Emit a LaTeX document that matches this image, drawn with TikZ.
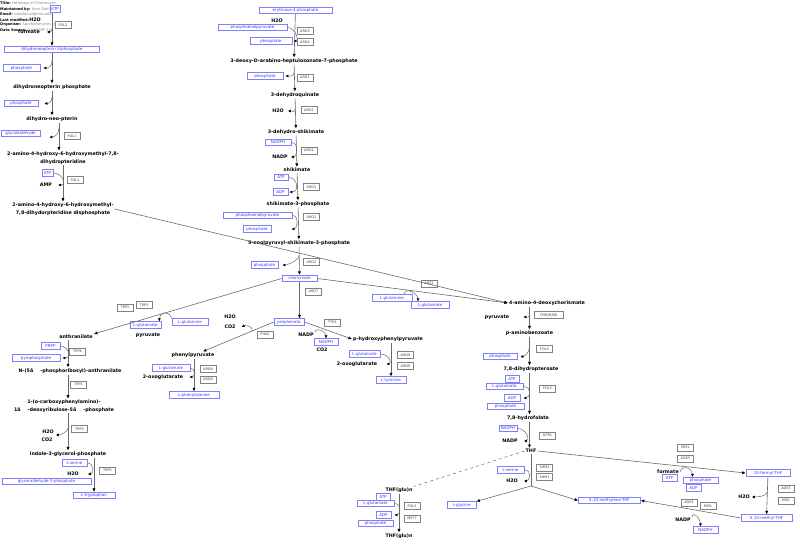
\documentclass[tikz,border=0pt]{standalone}
\usepackage{fontspec}
\setmainfont{DejaVu Sans}
\usetikzlibrary{arrows.meta,calc}
\definecolor{metblue}{RGB}{128,128,255}
\definecolor{mettext}{RGB}{60,60,230}
\definecolor{genegray}{RGB}{130,130,130}
\definecolor{linegray}{RGB}{105,105,105}

\begin{document}
\begin{tikzpicture}[x=1pt, y=-1pt]
  \tikzstyle{met} = [draw=metblue, fill=white, text=mettext, line width=0.7pt, font=\fontsize{4}{4.5}\selectfont, minimum height=6.5pt, inner sep=0.4pt]
  \tikzstyle{cpd} = [font=\fontsize{4.8}{7.5}\selectfont\bfseries, inner sep=1pt, align=center]
  \tikzstyle{gene} = [draw=genegray, fill=white, text=darkgray, line width=0.5pt, font=\fontsize{3.4}{4}\selectfont, minimum width=16pt, minimum height=7pt, inner sep=0.4pt]
  \tikzstyle{hdr} = [anchor=west, inner sep=0pt, text=gray, font=\fontsize{3.6}{4}\selectfont]
  \tikzstyle{rxn} = [draw=linegray, line width=0.6pt, -{Latex[length=3.5pt,width=3.2pt,color=black]}]
  \tikzstyle{side} = [draw=linegray, line width=0.5pt, -{Latex[length=3pt,width=3pt,color=black]}]

  \useasboundingbox (0,0) rectangle (800,545);

  % header
  \node[hdr] (hTitle) at (0,4) {{\color{black}\bfseries Title:} Pathways of Chorismate};
  \node[hdr] (hMaint) at (0,10) {{\color{black}\bfseries Maintained by:} Kam Dahlquist};
  \node[hdr] (hMail) at (0,15) {{\color{black}\bfseries Email:} kdahlquist@lmu.edu};
  \node[hdr] (hMod) at (0,20) {{\color{black}\bfseries Last modified:}};
  \node[hdr] (hOrg) at (0,25) {{\color{black}\bfseries Organism:} Saccharomyces cerevisiae};
  \node[hdr] (hSrc) at (0,30) {{\color{black}\bfseries Data Source:} GenMAPP 2.0};

  % folate branch (left)
  \node[met, minimum width=10pt] (gtp) at (55,9) {GTP};
  \node[cpd] (h2oA) at (35,20) {H2O};
  \node[cpd] (formate) at (29,32) {formate};
  \node[gene] (fol2) at (63,25) {FOL2};
  \node[met, minimum width=95pt] (dntp) at (52,49.5) {dihydroneopterin triphosphate};
  \node[met, minimum width=37pt] (phA) at (21.5,68) {phosphate};
  \node[cpd] (dnp) at (52,87) {dihydroneopterin phosphate};
  \node[met, minimum width=34pt] (phB) at (21,103.5) {phosphate};
  \node[cpd] (dhnp) at (52,119) {dihydro-neo-pterin};
  \node[met, minimum width=39pt] (glyald) at (20.5,133.5) {glycolaldehyde};
  \node[gene] (fol1a) at (72,136) {FOL1};
  \node[cpd] (ahmd) at (63,158) {2-amino-4-hydroxy-6-hydroxymethyl-7,8-\\dihydropteridine};
  \node[met, minimum width=11pt] (atpA) at (47.5,173) {ATP};
  \node[gene] (fol1b) at (75,180) {FOL1};
  \node[cpd] (amp) at (46,185) {AMP};
  \node[cpd] (ahmdp) at (63,209) {2-amino-4-hydroxy-6-hydroxymethyl-\\7,8-dihydorpteridine disphosphate};

  % shikimate pathway
  \node[met, minimum width=73pt] (e4p) at (295.5,10.5) {erythrose-4-phosphate};
  \node[cpd] (h2oB) at (277,21) {H2O};
  \node[met, minimum width=69pt] (pepA) at (252.5,27.5) {phosphoenolpyruvate};
  \node[gene] (aro3) at (305,31) {ARO3};
  \node[met, minimum width=42pt] (phC) at (271,41) {phosphate};
  \node[gene] (aro4) at (305,42) {ARO4};
  \node[cpd] (dahp) at (294,61) {3-deoxy-D-arabino-heptulosonate-7-phosphate};
  \node[met, minimum width=36pt] (phD) at (265,76) {phosphate};
  \node[gene] (aro1a) at (305,77.5) {ARO1};
  \node[cpd] (dhq) at (295,95) {3-dehydroquinate};
  \node[cpd] (h2oC) at (278,111) {H2O};
  \node[gene] (aro1b) at (309,110) {ARO1};
  \node[cpd] (dhs) at (296,132) {3-dehydro-shikimate};
  \node[met, minimum width=26pt] (nadphA) at (278,142.5) {NADPH};
  \node[gene] (aro1c) at (309,150.5) {ARO1};
  \node[cpd] (nadpA) at (280,157) {NADP};
  \node[cpd] (shik) at (297,170) {shikimate};
  \node[met, minimum width=14pt] (atpB) at (281,177.5) {ATP};
  \node[gene] (aro1d) at (311.5,187) {ARO1};
  \node[met, minimum width=15pt] (adpA) at (280.5,192) {ADP};
  \node[cpd] (s3p) at (298,204) {shikimate-3-phosphate};
  \node[met, minimum width=69pt] (pepB) at (257.5,215.5) {phosphoenolpyruvate};
  \node[gene] (aro1e) at (311.5,217) {ARO1};
  \node[met, minimum width=28pt] (phE) at (257,229) {phosphate};
  \node[cpd] (eps) at (299,243) {5-enolpyruvyl-shikimate-3-phosphate};
  \node[met, minimum width=27pt] (phF) at (264.5,265) {phosphate};
  \node[gene] (aro2) at (311.5,262) {ARO2};
  \node[met, minimum width=35pt] (chor) at (299.5,278.5) {chorismate};
  \node[gene] (aro7) at (313.5,291.5) {ARO7};

  % phenylalanine and tyrosine
  \node[met, minimum width=30pt] (prep) at (289,322) {prephenate};
  \node[cpd] (h2oD) at (230,317) {H2O};
  \node[cpd] (co2A) at (230,327) {CO2};
  \node[gene] (pha2) at (265,334.5) {PHA2};
  \node[cpd] (php) at (193,355) {phenylpyruvate};
  \node[met, minimum width=38pt] (gluC) at (171,368) {L-glutamate};
  \node[gene] (aro9b) at (208,369) {ARO9};
  \node[cpd] (oxoB) at (163,377) {2-oxoglutarate};
  \node[gene] (aro8b) at (208,379.5) {ARO8};
  \node[met, minimum width=50pt] (phe) at (194,395) {L-phenylalanine};
  \node[gene] (tyr1) at (332.5,322.5) {TYR1};
  \node[cpd] (nadpB) at (306,335) {NADP};
  \node[met, minimum width=24pt] (nadphB) at (326,342) {NADPH};
  \node[cpd] (co2B) at (322,350) {CO2};
  \node[cpd] (hpp) at (388,339) {p-hydroxyphenylpyruvate};
  \node[met, minimum width=31pt] (gluA) at (364.5,354) {L-glutamate};
  \node[gene] (aro9a) at (405.5,355) {ARO9};
  \node[cpd] (oxoA) at (357,364) {2-oxoglutarate};
  \node[gene] (aro8a) at (405.5,366) {ARO8};
  \node[met, minimum width=30pt] (tyr) at (391,380) {L-tyrosine};

  % tryptophan
  \node[gene] (trp2) at (125,307.5) {TRP2};
  \node[gene] (trp3a) at (144,305) {TRP3};
  \node[met, minimum width=36pt] (glnA) at (190,322) {L-glutamine};
  \node[met, minimum width=31pt] (gluB) at (145.5,325) {L-glutamate};
  \node[cpd] (pyrA) at (148,335) {pyruvate};
  \node[cpd] (anth) at (76,337) {anthranilate};
  \node[met, minimum width=19pt] (prpp) at (50.5,346) {PRPP};
  \node[gene] (trp4) at (77.5,351.5) {TRP4};
  \node[met, minimum width=48pt] (ppi) at (36,358) {pyrophosphate};
  \node[cpd] (pra) at (70,371) {N-(5â\hspace{7pt}-phosphoribosyl)-anthranilate};
  \node[gene] (trp1) at (78.5,384.5) {TRP1};
  \node[cpd] (cdrp) at (64,406) {1-(o-carboxyphenylamino)-\\1â\hspace{7pt}-deoxyribulose-5â\hspace{7pt}-phosphate};
  \node[gene] (trp3b) at (79.5,429) {TRP3};
  \node[cpd] (h2oE) at (48,432) {H2O};
  \node[cpd] (co2C) at (47,440) {CO2};
  \node[cpd] (igp) at (68,454) {indole-3-glycerol-phosphate};
  \node[met, minimum width=25pt] (serA) at (74.5,463) {L-serine};
  \node[gene] (trp5) at (107.5,470.5) {TRP5};
  \node[cpd] (h2oF) at (73,474) {H2O};
  \node[met, minimum width=89pt] (g3p) at (46.5,481.5) {glyceraldehyde-3-phosphate};
  \node[met, minimum width=42pt] (trp) at (94,495.5) {L-tryptophan};

  % p-aminobenzoate and folate
  \node[gene] (abz1) at (429,283.5) {ABZ1};
  \node[met, minimum width=40pt] (glnB) at (392,298) {L-glutamine};
  \node[met, minimum width=38pt] (gluD) at (430,305) {L-glutamate};
  \node[cpd] (adc) at (547,303) {4-amino-4-deoxychorismate};
  \node[cpd] (pyrB) at (497,317) {pyruvate};
  \node[gene, minimum width=29pt] (ymr) at (548.5,315) {YMR289W};
  \node[cpd] (pab) at (529.5,333) {p-aminobenzoate};
  \node[gene] (fol3a) at (544.5,349) {FOL3};
  \node[met, minimum width=34pt] (phG) at (500,356.5) {phosphate};
  \node[cpd] (dhpt) at (531,369) {7,8-dihydropteroate};
  \node[met, minimum width=14pt] (atpC) at (512,379) {ATP};
  \node[met, minimum width=37pt] (gluE) at (504.5,386.5) {L-glutamate};
  \node[gene] (fol3b) at (547.5,388.5) {FOL3};
  \node[met, minimum width=16pt] (adpB) at (512,398) {ADP};
  \node[met, minimum width=37pt] (phH) at (505.5,406.5) {phosphate};
  \node[cpd] (dhf) at (528,418) {7,8-hydrofolate};
  \node[met, minimum width=18pt] (nadphC) at (508,428.5) {NADPH};
  \node[gene] (dfr1) at (547.5,435.5) {DFR1};
  \node[cpd] (nadpC) at (510,441) {NADP};
  \node[cpd] (thf) at (531,451) {THF};
  \node[gene] (shm2) at (544.5,467.5) {SHM2};
  \node[gene] (shm1) at (544.5,477) {SHM1};
  \node[met, minimum width=27pt] (serB) at (510.5,470) {L-serine};
  \node[cpd] (h2oG) at (512,481) {H2O};
  \node[met, minimum width=29pt] (gly) at (461.5,505) {L-glycine};
  \node[met, minimum width=62pt] (mthf) at (609.5,500.5) {5,10-methylene-THF};
  \coordinate (shmj) at (531,486);

  % polyglutamation
  \node[cpd] (thfgA) at (399,490) {THF(glu)n};
  \node[met, minimum width=14pt] (atpD) at (383,497) {ATP};
  \node[met, minimum width=37pt] (gluF) at (375.5,503.5) {L-glutamate};
  \node[gene] (fol3c) at (412,506) {FOL3};
  \node[met, minimum width=15pt] (adpC) at (383.5,515) {ADP};
  \node[gene] (met7) at (412,518.5) {MET7};
  \node[met, minimum width=35pt] (phI) at (375.5,523.5) {phosphate};
  \node[cpd] (thfgB) at (399,536) {THF(glu)n};

  % one-carbon units
  \node[gene] (mis1a) at (685.5,447.5) {MIS1};
  \node[gene] (ade3a) at (685.5,458.5) {ADE3};
  \node[cpd] (formB) at (668,472) {formate};
  \node[met, minimum width=15pt] (atpE) at (669.5,478) {ATP};
  \node[met, minimum width=35pt] (phJ) at (700.5,480.5) {phosphate};
  \node[met, minimum width=15pt] (adpD) at (693.5,488) {ADP};
  \node[met, minimum width=44pt] (fthf) at (768,473) {10-formyl-THF};
  \node[gene] (ade3b) at (786,488.5) {ADE3};
  \node[cpd] (h2oH) at (744,497) {H2O};
  \node[gene] (mis1b) at (786,500.5) {MIS1};
  \node[gene] (ade3c) at (689,502.5) {ADE3};
  \node[gene] (mis1c) at (708,506) {MIS1};
  \node[met, minimum width=51pt] (methf) at (766.5,518) {5,10-methyl-THF};
  \node[cpd] (nadpD) at (683,520) {NADP};
  \node[met, minimum width=25pt] (nadphD) at (705.5,530) {NADPH};

  % reactions: folate branch
  \coordinate (fA) at ([xshift=7pt]dhnp.south);
  \coordinate (fB) at ([xshift=-4pt]ahmd.north);
  \draw[rxn] (gtp.south -| dntp.north) -- (dntp.north);
  \draw[side] ($(gtp.south -| dntp.north)!0.5!(dntp.north)$) .. controls +(0,3) and +(3,0) .. ([xshift=6pt]formate.east);
  \draw[rxn] (dntp) -- (dnp);
  \draw[side] ($(dntp.south)!0.25!(dnp.north)$) .. controls +(0,7) and +(4,0) .. ([xshift=3pt]phA.east);
  \draw[rxn] (dnp) -- (dhnp);
  \draw[side] ($(dnp.south)!0.25!(dhnp.north)$) .. controls +(0,6) and +(4,0) .. ([xshift=6pt]phB.east);
  \draw[rxn] (fA) -- (fB);
  \draw[side] ($(fA)!0.2!(fB)$) .. controls +(0,6) and +(5,0) .. ([xshift=9pt]glyald.south east);
  \draw[rxn] (ahmd) -- (ahmdp);
  \draw[side] (atpA.east) .. controls +(9,0) and +(9,0) .. ([xshift=5pt]amp.east);
  \draw[rxn] (ahmdp.east) -- (adc.west);

  % reactions: shikimate pathway
  \draw[rxn] (e4p) -- (dahp);
  \draw[side] (pepA.east) .. controls +(8,0) and +(6,0) .. ([xshift=1pt]phC.east);
  \draw[rxn] (dahp) -- (dhq);
  \draw[side] ($(dahp.south)!0.25!(dhq.north)$) .. controls +(0,6) and +(4,0) .. ([xshift=2pt]phD.east);
  \draw[rxn] (dhq) -- (dhs);
  \draw[side] ($(dhq.south)!0.3!(dhs.north)$) .. controls +(0,6) and +(4,0) .. ([xshift=3pt]h2oC.east);
  \draw[rxn] (dhs) -- (shik);
  \draw[side] (nadphA.east) .. controls +(8,0) and +(6,0) .. ([xshift=2pt]nadpA.east);
  \draw[rxn] (shik) -- (s3p);
  \draw[side] (atpB.east) .. controls +(10,0) and +(10,0) .. ([xshift=1pt]adpA.east);
  \draw[rxn] (s3p) -- (eps);
  \draw[side] (pepB.east) .. controls +(7,0) and +(6,0) .. ([xshift=20pt]phE.east);
  \draw[rxn] (eps) -- (chor);
  \draw[side] ($(eps.south)!0.3!(chor.north)$) .. controls +(0,6) and +(4,0) .. ([xshift=4pt]phF.east);

  % reactions: from chorismate
  \coordinate (phpIn) at ([xshift=10pt]php.north);
  \draw[rxn] (chor.east) -- (adc.west);
  \draw[side] ([xshift=-8pt]glnB.north east) .. controls +(0,-8) and +(0,-8) .. ([xshift=-12pt]gluD.north);
  \draw[rxn] (chor.west) -- (anth.north east);
  \draw[side] (glnA.north west) .. controls +(-3,-9) and +(0,-9) .. ([xshift=-2pt]gluB.north east);
  \draw[rxn] (chor.south) -- (chor.south |- prep.north);
  \draw[rxn] (prep.west) -- (phpIn);
  \draw[side] ($(prep.west)!0.3!(phpIn)$) .. controls +(0,-5) and +(4,-2) .. ([xshift=5pt]co2A.east);
  \draw[rxn] (prep.east) -- (hpp.west);
  \draw[side] (nadpB.north east) .. controls +(3,-6) and +(0,-6) .. (nadphB.north);
  \draw[rxn] (hpp.south -| tyr.north) -- (tyr.north);
  \draw[side] (gluA.east) .. controls +(9,0) and +(6,0) .. ([xshift=8pt]oxoA.east);
  \draw[rxn] (php.south -| phe.north) -- (phe.north);
  \draw[side] (gluC.east) .. controls +(5,0) and +(6,0) .. ([xshift=5pt]oxoB.east);

  % reactions: tryptophan
  \draw[rxn] (anth.south -| igp.north) -- (pra.north -| igp.north);
  \draw[side] (prpp.east) .. controls +(8,0) and +(10,0) .. ([xshift=2pt]ppi.east);
  \draw[rxn] (pra.south -| igp.north) -- (cdrp.north -| igp.north);
  \draw[rxn] (cdrp.south -| igp.north) -- (igp.north);
  \draw[side] ($(cdrp.south -| igp.north)!0.4!(igp.north)$) .. controls +(0,4) and +(4,0) .. ([xshift=1pt]h2oE.south east);
  \draw[rxn] (igp.south -| trp.north) -- (trp.north);
  \draw[side] (serA.east) .. controls +(7,0) and +(6,0) .. ([xshift=8pt]h2oF.east);

  % reactions: p-aminobenzoate and folate
  \draw[rxn] (adc.south -| pab.north) -- (pab.north);
  \draw[side] ($(adc.south -| pab.north)!0.3!(pab.north)$) .. controls +(0,5) and +(4,0) .. ([xshift=13pt]pyrB.east);
  \draw[rxn] (pab.south) -- (pab.south |- dhpt.north);
  \draw[side] ($(pab.south)!0.35!(pab.south |- dhpt.north)$) .. controls +(0,6) and +(4,0) .. ([xshift=3pt]phG.east);
  \draw[rxn] (dhpt.south -| pab.south) -- (dhf.north -| pab.south);
  \draw[side] (gluE.east) .. controls +(9,0) and +(7,0) .. ([xshift=3pt]adpB.east);
  \draw[rxn] (dhf.south -| pab.south) -- (thf.north -| pab.south);
  \draw[side] (nadphC.east) .. controls +(10,0) and +(6,0) .. ([xshift=5pt]nadpC.east);
  \draw[dashed, linegray, line width=0.5pt] (thf.west) -- (thfgA.north east);
  \draw[rxn, -] (thf.south) -- (shmj);
  \draw[rxn] (shmj) -- (gly.north east);
  \draw[rxn] (shmj) -- (mthf.west);
  \draw[side] (serB.east) .. controls +(8,0) and +(6,0) .. ([xshift=5pt]h2oG.east);
  \draw[rxn] (thfgA) -- (thfgB);
  \draw[side] (gluF.east) .. controls +(8,0) and +(6,0) .. ([xshift=3pt]adpC.east);

  % reactions: one-carbon units
  \draw[rxn] (thf.east) -- (fthf.west);
  \draw[side] (formB.east) .. controls +(2,-8) and +(0,-9) .. ([xshift=-8pt]phJ.north);
  \draw[rxn] (fthf) -- (methf);
  \draw[side] ($(fthf.south)!0.4!(methf.north)$) .. controls +(0,5) and +(4,0) .. ([xshift=1pt]h2oH.east);
  \draw[rxn] (methf.west) -- (mthf.east);
  \draw[side] (nadpD.north east) .. controls +(2,-7) and +(0,-7) .. ([xshift=-5pt]nadphD.north);
\end{tikzpicture}
\end{document}
